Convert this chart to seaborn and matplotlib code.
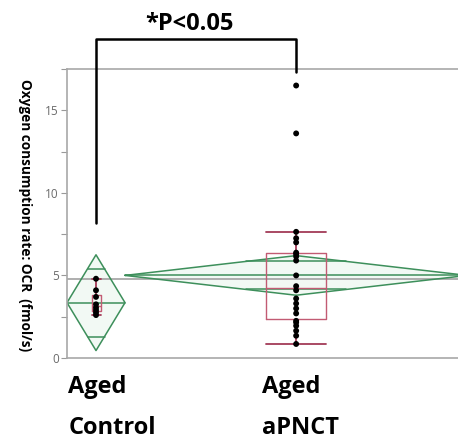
import numpy as np
import pandas as pd
import matplotlib
matplotlib.use("Agg")
import matplotlib.pyplot as plt
from matplotlib.ticker import MultipleLocator
from matplotlib.transforms import blended_transform_factory
import seaborn as sns

# ---------------- data ----------------
groups = ["Aged Control", "Aged aPNCT"]
label_line1 = ["Aged", "Aged"]
label_line2 = ["Control", "aPNCT"]
control_ocr = [2.6, 2.75, 2.9, 3.05, 3.25, 3.7, 4.1, 4.8]
apnct_ocr = [0.85, 1.35, 1.65, 1.95, 2.15, 2.25, 2.7, 3.0, 3.3, 3.6, 4.1,
             4.35, 5.0, 5.9, 6.15, 6.3, 6.38, 7.0, 7.25, 7.64, 13.6, 16.5]
group_means = [3.35, 5.0]
group_ci_half = [2.9, 1.2]
grand_mean = 4.78
y_ticks = [0, 5, 10, 15]
p_text = "*P<0.05"
y_label = "Oxygen consumption rate: OCR  (fmol/s)"

# ---------------- layout / style ----------------
group_left = [0.0, 1.0]
group_right = [1.0, 6.9]
box_widths = [0.155, 1.03]
label_x = [0.02, 3.36]
xlim = (0, 6.74)
ylim = (0, 17.5)
bracket_top = 19.3
bracket_leg_bottom = [8.2, 17.3]

green = "#3d8f5b"
box_c = "#c25b73"
whisk_c = "#a33a57"
gray = "#a8a8a8"

sns.set_style("white")
plt.rcParams["font.family"] = ["Open Sans", "DejaVu Sans"]

fig = plt.figure(figsize=(4.58, 4.41), dpi=100)
ax = fig.add_axes([67 / 458, (441 - 358) / 441, (458 - 67) / 458, (358 - 69) / 441])

centers = [(l + r) / 2 for l, r in zip(group_left, group_right)]

# means diamonds
for l, r, c, m, h in zip(group_left, group_right, centers, group_means, group_ci_half):
    xs = [l, c, r, c, l]
    ys = [m, m + h, m, m - h, m]
    ax.fill(xs, ys, color="#f2f9f4", zorder=1, lw=0)
    ax.plot(xs, ys, color=green, lw=1.1, zorder=2)
    ax.plot([l, r], [m, m], color=green, lw=1.1, zorder=2)
    hw = (r - l) / 2 * (1 - 1 / np.sqrt(2))
    for s in (1, -1):
        yy = m + s * h / np.sqrt(2)
        ax.plot([c - hw, c + hw], [yy, yy], color=green, lw=1.1, zorder=2)

# grand mean
ax.axhline(grand_mean, color=gray, lw=1.3, zorder=1.5)

# box plots
ax.boxplot([control_ocr, apnct_ocr], positions=centers, widths=box_widths,
           capwidths=box_widths, whis=1.5, showfliers=False, manage_ticks=False,
           boxprops=dict(color=box_c, lw=1.0),
           whiskerprops=dict(color=whisk_c, lw=1.3),
           capprops=dict(color=whisk_c, lw=1.3),
           medianprops=dict(color=box_c, lw=1.0), zorder=3)

# points
df = pd.DataFrame({
    "group": [groups[0]] * len(control_ocr) + [groups[1]] * len(apnct_ocr),
    "ocr": control_ocr + apnct_ocr,
})
df["xpos"] = df["group"].map(dict(zip(groups, centers)))
sns.scatterplot(data=df, x="xpos", y="ocr", color="black", s=18, edgecolor="none",
                ax=ax, zorder=5, legend=False)

ax.set_xlim(*xlim)
ax.set_ylim(*ylim)
ax.set_xlabel("")
ax.set_ylabel("")
ax.set_xticks([])
ax.set_yticks(y_ticks)
ax.yaxis.set_minor_locator(MultipleLocator(2.5))
ax.tick_params(axis="y", which="both", direction="out", length=4, width=0.8,
               color="#999999", labelcolor="#6a6a6a", labelsize=8.5, left=True, pad=2)
for side in ["left", "bottom", "top"]:
    ax.spines[side].set_color(gray)
    ax.spines[side].set_linewidth(1.2)
ax.spines["right"].set_visible(False)

# y label
fig.text(25 / 458, (441 - 215) / 441, y_label, rotation=-90, ha="center", va="center",
         fontsize=9.8, fontweight="bold", color="black")

# significance bracket
ax.plot([centers[0], centers[0], centers[1], centers[1]],
        [bracket_leg_bottom[0], bracket_top, bracket_top, bracket_leg_bottom[1]],
        color="black", lw=1.8, clip_on=False, zorder=6)
fig.text(189 / 458, (441 - 30) / 441, p_text, ha="center", va="baseline",
         fontsize=17, fontweight="bold", color="black")

# group labels
trans = blended_transform_factory(ax.transData, fig.transFigure)
for x, a, b in zip(label_x, label_line1, label_line2):
    ax.text(x, (441 - 393) / 441, a, transform=trans, ha="left", va="baseline",
            fontsize=17, fontweight="bold", color="black")
    ax.text(x, (441 - 434) / 441, b, transform=trans, ha="left", va="baseline",
            fontsize=17, fontweight="bold", color="black")

fig.savefig("out.png", dpi=100)
